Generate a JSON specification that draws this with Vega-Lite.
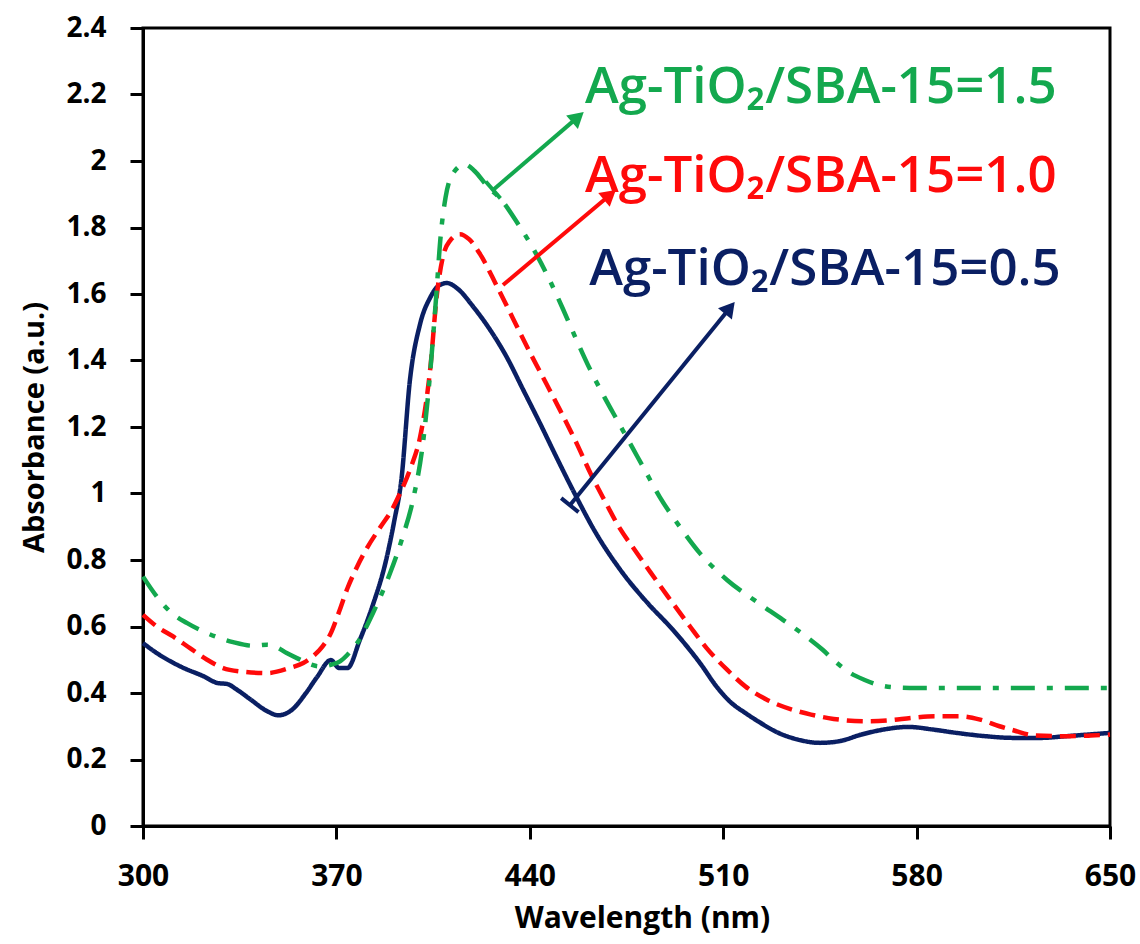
{
  "$schema": "https://vega.github.io/schema/vega-lite/v6.json",
  "autosize": "none",
  "width": 967,
  "height": 798,
  "padding": {"left": 143, "top": 28, "right": 30, "bottom": 118},
  "background": "white",
  "config": {
    "view": {"stroke": "black", "strokeWidth": 3},
    "axis": {"grid": false, "domainColor": "black", "domainWidth": 3, "tickColor": "black", "tickWidth": 3, "tickSize": 13, "labelColor": "black", "titleColor": "black", "labelFont": "Open Sans", "titleFont": "Open Sans", "labelFontWeight": "bold", "titleFontWeight": "bold", "labelFlush": false}
  },
  "datasets": {
    "spectra": [
      {"s": "0.5", "w": 300, "a": 0.55}, {"s": "0.5", "w": 305, "a": 0.52}, {"s": "0.5", "w": 314, "a": 0.478}, {"s": "0.5", "w": 322, "a": 0.45}, {"s": "0.5", "w": 327, "a": 0.43}, {"s": "0.5", "w": 330.5, "a": 0.427}, {"s": "0.5", "w": 334, "a": 0.41}, {"s": "0.5", "w": 339, "a": 0.38}, {"s": "0.5", "w": 345, "a": 0.345}, {"s": "0.5", "w": 349, "a": 0.333}, {"s": "0.5", "w": 354, "a": 0.35}, {"s": "0.5", "w": 359, "a": 0.4}, {"s": "0.5", "w": 363, "a": 0.448}, {"s": "0.5", "w": 368, "a": 0.499}, {"s": "0.5", "w": 371, "a": 0.475}, {"s": "0.5", "w": 374, "a": 0.475}, {"s": "0.5", "w": 378.5, "a": 0.56}, {"s": "0.5", "w": 383, "a": 0.66}, {"s": "0.5", "w": 388, "a": 0.8}, {"s": "0.5", "w": 391, "a": 0.92}, {"s": "0.5", "w": 393.5, "a": 1.04}, {"s": "0.5", "w": 396.6, "a": 1.34}, {"s": "0.5", "w": 400.3, "a": 1.51}, {"s": "0.5", "w": 404, "a": 1.59}, {"s": "0.5", "w": 407, "a": 1.625}, {"s": "0.5", "w": 410, "a": 1.633}, {"s": "0.5", "w": 414, "a": 1.615}, {"s": "0.5", "w": 419.5, "a": 1.562}, {"s": "0.5", "w": 425, "a": 1.5}, {"s": "0.5", "w": 431.6, "a": 1.411}, {"s": "0.5", "w": 437.6, "a": 1.312}, {"s": "0.5", "w": 443.7, "a": 1.211}, {"s": "0.5", "w": 449.6, "a": 1.11}, {"s": "0.5", "w": 455.6, "a": 1.01}, {"s": "0.5", "w": 464, "a": 0.88}, {"s": "0.5", "w": 473.7, "a": 0.76}, {"s": "0.5", "w": 482.7, "a": 0.67}, {"s": "0.5", "w": 491.8, "a": 0.59}, {"s": "0.5", "w": 501.6, "a": 0.49}, {"s": "0.5", "w": 508, "a": 0.415}, {"s": "0.5", "w": 513, "a": 0.37}, {"s": "0.5", "w": 518, "a": 0.34}, {"s": "0.5", "w": 522.6, "a": 0.315}, {"s": "0.5", "w": 530, "a": 0.28}, {"s": "0.5", "w": 537, "a": 0.26}, {"s": "0.5", "w": 545, "a": 0.25}, {"s": "0.5", "w": 552, "a": 0.255}, {"s": "0.5", "w": 560, "a": 0.275}, {"s": "0.5", "w": 568, "a": 0.29}, {"s": "0.5", "w": 577, "a": 0.298}, {"s": "0.5", "w": 586, "a": 0.29}, {"s": "0.5", "w": 594.5, "a": 0.28}, {"s": "0.5", "w": 605, "a": 0.27}, {"s": "0.5", "w": 615, "a": 0.265}, {"s": "0.5", "w": 625, "a": 0.265}, {"s": "0.5", "w": 634, "a": 0.27}, {"s": "0.5", "w": 642, "a": 0.275}, {"s": "0.5", "w": 650, "a": 0.28},
      {"s": "1.0", "w": 300, "a": 0.635}, {"s": "1.0", "w": 305, "a": 0.6}, {"s": "1.0", "w": 310.9, "a": 0.57}, {"s": "1.0", "w": 317, "a": 0.535}, {"s": "1.0", "w": 323.2, "a": 0.5}, {"s": "1.0", "w": 329, "a": 0.475}, {"s": "1.0", "w": 335, "a": 0.465}, {"s": "1.0", "w": 345, "a": 0.46}, {"s": "1.0", "w": 353, "a": 0.475}, {"s": "1.0", "w": 358, "a": 0.49}, {"s": "1.0", "w": 361.5, "a": 0.51}, {"s": "1.0", "w": 365, "a": 0.54}, {"s": "1.0", "w": 367.7, "a": 0.575}, {"s": "1.0", "w": 371, "a": 0.645}, {"s": "1.0", "w": 374, "a": 0.715}, {"s": "1.0", "w": 377.5, "a": 0.78}, {"s": "1.0", "w": 381, "a": 0.835}, {"s": "1.0", "w": 386, "a": 0.9}, {"s": "1.0", "w": 390, "a": 0.95}, {"s": "1.0", "w": 393, "a": 1.0}, {"s": "1.0", "w": 397, "a": 1.08}, {"s": "1.0", "w": 400.3, "a": 1.17}, {"s": "1.0", "w": 403.9, "a": 1.37}, {"s": "1.0", "w": 406.4, "a": 1.6}, {"s": "1.0", "w": 408.5, "a": 1.71}, {"s": "1.0", "w": 411.1, "a": 1.76}, {"s": "1.0", "w": 414.7, "a": 1.78}, {"s": "1.0", "w": 418, "a": 1.765}, {"s": "1.0", "w": 422, "a": 1.72}, {"s": "1.0", "w": 428, "a": 1.625}, {"s": "1.0", "w": 434, "a": 1.525}, {"s": "1.0", "w": 440, "a": 1.425}, {"s": "1.0", "w": 446, "a": 1.33}, {"s": "1.0", "w": 451, "a": 1.25}, {"s": "1.0", "w": 457, "a": 1.15}, {"s": "1.0", "w": 462, "a": 1.06}, {"s": "1.0", "w": 467, "a": 0.98}, {"s": "1.0", "w": 472.6, "a": 0.895}, {"s": "1.0", "w": 478, "a": 0.83}, {"s": "1.0", "w": 483.5, "a": 0.765}, {"s": "1.0", "w": 490, "a": 0.69}, {"s": "1.0", "w": 498, "a": 0.6}, {"s": "1.0", "w": 504, "a": 0.535}, {"s": "1.0", "w": 511.4, "a": 0.47}, {"s": "1.0", "w": 518, "a": 0.42}, {"s": "1.0", "w": 525.8, "a": 0.38}, {"s": "1.0", "w": 535, "a": 0.35}, {"s": "1.0", "w": 541.8, "a": 0.335}, {"s": "1.0", "w": 550, "a": 0.322}, {"s": "1.0", "w": 562, "a": 0.315}, {"s": "1.0", "w": 570.5, "a": 0.318}, {"s": "1.0", "w": 578, "a": 0.325}, {"s": "1.0", "w": 586.5, "a": 0.33}, {"s": "1.0", "w": 596, "a": 0.33}, {"s": "1.0", "w": 603, "a": 0.32}, {"s": "1.0", "w": 610, "a": 0.3}, {"s": "1.0", "w": 615, "a": 0.288}, {"s": "1.0", "w": 623, "a": 0.272}, {"s": "1.0", "w": 635, "a": 0.27}, {"s": "1.0", "w": 643, "a": 0.272}, {"s": "1.0", "w": 650, "a": 0.275},
      {"s": "1.5", "w": 300, "a": 0.75}, {"s": "1.5", "w": 305, "a": 0.69}, {"s": "1.5", "w": 309.8, "a": 0.645}, {"s": "1.5", "w": 316, "a": 0.61}, {"s": "1.5", "w": 323.2, "a": 0.58}, {"s": "1.5", "w": 332.6, "a": 0.553}, {"s": "1.5", "w": 340, "a": 0.542}, {"s": "1.5", "w": 344.9, "a": 0.545}, {"s": "1.5", "w": 348.5, "a": 0.537}, {"s": "1.5", "w": 352, "a": 0.52}, {"s": "1.5", "w": 355.7, "a": 0.505}, {"s": "1.5", "w": 364, "a": 0.48}, {"s": "1.5", "w": 368, "a": 0.485}, {"s": "1.5", "w": 371.3, "a": 0.495}, {"s": "1.5", "w": 374, "a": 0.515}, {"s": "1.5", "w": 377.5, "a": 0.55}, {"s": "1.5", "w": 383.2, "a": 0.64}, {"s": "1.5", "w": 389.4, "a": 0.76}, {"s": "1.5", "w": 394, "a": 0.87}, {"s": "1.5", "w": 397.7, "a": 0.98}, {"s": "1.5", "w": 401.3, "a": 1.15}, {"s": "1.5", "w": 403.9, "a": 1.36}, {"s": "1.5", "w": 406, "a": 1.58}, {"s": "1.5", "w": 407.8, "a": 1.78}, {"s": "1.5", "w": 409.5, "a": 1.89}, {"s": "1.5", "w": 412, "a": 1.96}, {"s": "1.5", "w": 416.5, "a": 1.99}, {"s": "1.5", "w": 420, "a": 1.97}, {"s": "1.5", "w": 424.5, "a": 1.925}, {"s": "1.5", "w": 430, "a": 1.88}, {"s": "1.5", "w": 435, "a": 1.82}, {"s": "1.5", "w": 441, "a": 1.74}, {"s": "1.5", "w": 447, "a": 1.645}, {"s": "1.5", "w": 452, "a": 1.555}, {"s": "1.5", "w": 457, "a": 1.46}, {"s": "1.5", "w": 462, "a": 1.37}, {"s": "1.5", "w": 467, "a": 1.29}, {"s": "1.5", "w": 472, "a": 1.215}, {"s": "1.5", "w": 477, "a": 1.14}, {"s": "1.5", "w": 481, "a": 1.08}, {"s": "1.5", "w": 487, "a": 0.99}, {"s": "1.5", "w": 494.3, "a": 0.9}, {"s": "1.5", "w": 501.6, "a": 0.82}, {"s": "1.5", "w": 511.4, "a": 0.74}, {"s": "1.5", "w": 522, "a": 0.675}, {"s": "1.5", "w": 531.6, "a": 0.62}, {"s": "1.5", "w": 540, "a": 0.57}, {"s": "1.5", "w": 546, "a": 0.53}, {"s": "1.5", "w": 551.2, "a": 0.49}, {"s": "1.5", "w": 556, "a": 0.46}, {"s": "1.5", "w": 561, "a": 0.44}, {"s": "1.5", "w": 566, "a": 0.425}, {"s": "1.5", "w": 572, "a": 0.417}, {"s": "1.5", "w": 580, "a": 0.415}, {"s": "1.5", "w": 600, "a": 0.415}, {"s": "1.5", "w": 620, "a": 0.415}, {"s": "1.5", "w": 650, "a": 0.415}
    ],
    "arrows": [
      {"s": "1.5", "w": 426.7, "a": 1.913, "w2": 457.4, "a2": 2.132},
      {"s": "1.0", "w": 430.3, "a": 1.627, "w2": 469.0, "a2": 1.898},
      {"s": "0.5", "w": 454.5, "a": 0.965, "w2": 512.4, "a2": 1.558}
    ],
    "labels": [
      {"s": "1.5", "w": 460, "a": 2.175, "label": "Ag-TiO₂/SBA-15=1.5"},
      {"s": "1.0", "w": 460, "a": 1.907, "label": "Ag-TiO₂/SBA-15=1.0"},
      {"s": "0.5", "w": 461.5, "a": 1.627, "label": "Ag-TiO₂/SBA-15=0.5"}
    ]
  },
  "encoding": {
    "x": {"field": "w", "type": "quantitative", "scale": {"domain": [300, 650], "nice": false, "zero": false},
      "axis": {"values": [300, 370, 440, 510, 580, 650], "title": "Wavelength (nm)", "labelFontSize": 30, "titleFontSize": 30, "labelPadding": 22, "titlePadding": 12, "titleX": 499}},
    "y": {"field": "a", "type": "quantitative", "scale": {"domain": [0, 2.4], "nice": false},
      "axis": {"values": [0, 0.2, 0.4, 0.6, 0.8, 1, 1.2, 1.4, 1.6, 1.8, 2, 2.2, 2.4], "labelExpr": "'' + datum.value", "title": "Absorbance (a.u.)", "labelFontSize": 28, "titleFontSize": 29, "labelPadding": 24, "titlePadding": 16}},
    "color": {"field": "s", "type": "nominal", "scale": {"domain": ["0.5", "1.0", "1.5"], "range": ["#0A1F63", "#FF0A0A", "#13A84E"]}, "legend": null}
  },
  "layer": [
    {
      "data": {"name": "spectra"},
      "mark": {"type": "line", "strokeWidth": 4.5, "interpolate": "monotone"},
      "encoding": {
        "strokeDash": {"field": "s", "type": "nominal", "scale": {"domain": ["0.5", "1.0", "1.5"], "range": [[1, 0], [16, 8], [24, 12, 6, 12]]}, "legend": null},
        "order": {"field": "w", "type": "quantitative"}
      }
    },
    {
      "data": {"name": "arrows"},
      "mark": {"type": "rule", "strokeWidth": 4},
      "encoding": {"x2": {"field": "w2"}, "y2": {"field": "a2"}}
    },
    {
      "data": {"name": "arrows"},
      "transform": [{"filter": "datum.s == '1.5'"}],
      "mark": {"type": "point", "shape": "triangle-up", "filled": true, "opacity": 1, "size": 320, "angle": 49},
      "encoding": {"x": {"field": "w2", "type": "quantitative"}, "y": {"field": "a2", "type": "quantitative"}}
    },
    {
      "data": {"name": "arrows"},
      "transform": [{"filter": "datum.s == '1.0'"}],
      "mark": {"type": "point", "shape": "triangle-up", "filled": true, "opacity": 1, "size": 320, "angle": 50},
      "encoding": {"x": {"field": "w2", "type": "quantitative"}, "y": {"field": "a2", "type": "quantitative"}}
    },
    {
      "data": {"name": "arrows"},
      "transform": [{"filter": "datum.s == '0.5'"}],
      "mark": {"type": "point", "shape": "triangle-up", "filled": true, "opacity": 1, "size": 320, "angle": 39},
      "encoding": {"x": {"field": "w2", "type": "quantitative"}, "y": {"field": "a2", "type": "quantitative"}}
    },
    {
      "data": {"name": "arrows"},
      "transform": [{"filter": "datum.s == '1.5'"}],
      "mark": {"type": "point", "shape": "stroke", "strokeWidth": 4, "opacity": 1, "size": 500, "angle": 49},
      "encoding": {}
    },
    {
      "data": {"name": "arrows"},
      "transform": [{"filter": "datum.s == '0.5'"}],
      "mark": {"type": "point", "shape": "stroke", "strokeWidth": 4, "opacity": 1, "size": 500, "angle": 39},
      "encoding": {}
    },
    {
      "data": {"name": "labels"},
      "mark": {"type": "text", "align": "left", "baseline": "alphabetic", "font": "Open Sans", "fontSize": 51, "fontWeight": 600},
      "encoding": {"text": {"field": "label"}}
    }
  ]
}
